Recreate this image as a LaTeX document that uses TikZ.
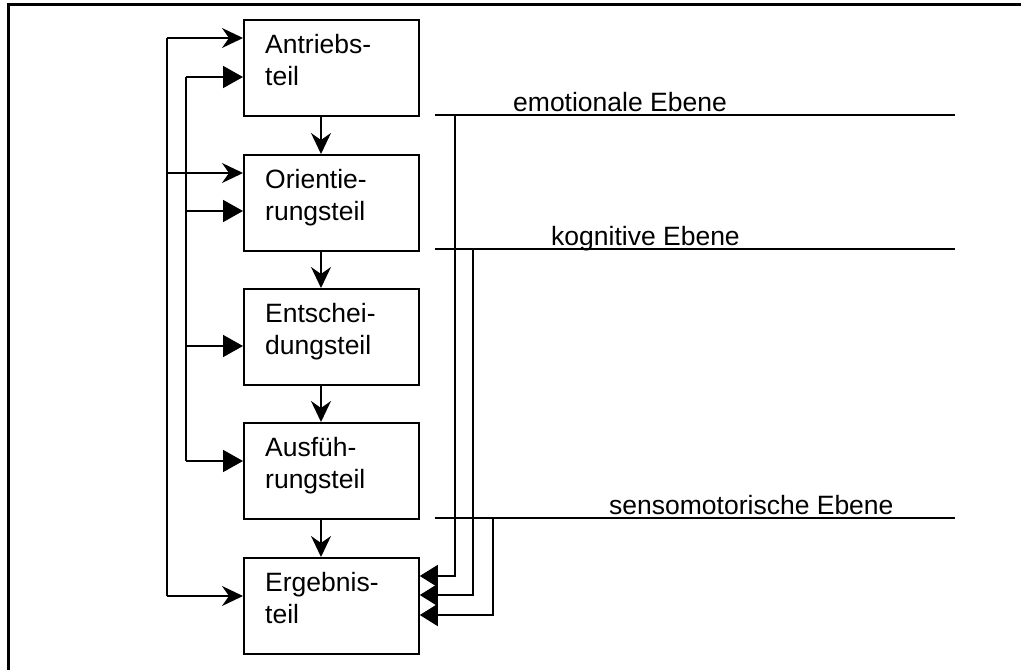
\documentclass[tikz,border=0pt]{standalone}
\usepackage{fontspec}
\setmainfont{Liberation Sans}
\usetikzlibrary{arrows.meta}
\begin{document}
\begin{tikzpicture}[x=1pt,y=-1pt,
  stepbox/.style={draw, line width=1.8pt, minimum width=175pt, minimum height=96pt, inner sep=0pt, anchor=north west},
  boxtext/.style={anchor=north west, inner sep=0pt, align=left, font=\fontsize{26.5}{32}\selectfont},
  lvltext/.style={anchor=base west, inner sep=0pt, font=\fontsize{26.5}{32}\selectfont},
  ln/.style={line width=1.7pt},
  oarr/.style={ln, -{Stealth[length=21pt,width=20pt,inset=7pt]}},
  farr/.style={ln, -{Triangle[length=20pt,width=22pt]}},
  rarr/.style={ln, -{Triangle[length=18pt,width=22pt]}},
  lvl/.style={line width=1.7pt}]
\useasboundingbox (0,0) rectangle (1021,670);
% frame
\draw[line width=2.5pt] (8.5,670) -- (8.5,4.5) -- (1021,4.5);
% boxes
\node[stepbox] (b1) at (243,19) {};
\node[stepbox] (b2) at (243,154) {};
\node[stepbox] (b3) at (243,288) {};
\node[stepbox] (b4) at (243,422) {};
\node[stepbox] (b5) at (243,557) {};
\node[boxtext] (t1) at (265,34) {Antriebs-\\teil};
\node[boxtext] (t2) at (265,169) {Orientie-\\rungsteil};
\node[boxtext] (t3) at (265,303) {Entschei-\\dungsteil};
\node[boxtext] (t4) at (265,437) {Ausfüh-\\rungsteil};
\node[boxtext] (t5) at (265,572) {Ergebnis-\\teil};
% down arrows
\draw[oarr] (b1.south west) ++(78,0) coordinate (d1) -- (d1 |- b2.north);
\draw[oarr] (b2.south west) ++(78,0) coordinate (d2) -- (d2 |- b3.north);
\draw[oarr] (b3.south west) ++(78,0) coordinate (d3) -- (d3 |- b4.north);
\draw[oarr] (b4.south west) ++(78,0) coordinate (d4) -- (d4 |- b5.north);
% outer left feedback line
\coordinate (o1) at (167,38);
\coordinate (o2) at (167,173);
\coordinate (o3) at (167,596);
\draw[ln] (o1) -- (o3);
\draw[oarr] (o1) -- (o1 -| b1.west);
\draw[oarr] (o2) -- (o2 -| b2.west);
\draw[oarr] (o3) -- (o3 -| b5.west);
% inner left feedback line
\coordinate (i1) at (186,77);
\coordinate (i2) at (186,211);
\coordinate (i3) at (186,346);
\coordinate (i4) at (186,461);
\draw[ln] (i1) -- (i4);
\draw[farr] (i1) -- (i1 -| b1.west);
\draw[farr] (i2) -- (i2 -| b2.west);
\draw[farr] (i3) -- (i3 -| b3.west);
\draw[farr] (i4) -- (i4 -| b4.west);
% level lines
\coordinate (e1) at (435,115); \coordinate (e2) at (955,115);
\coordinate (k1) at (435,249); \coordinate (k2) at (955,249);
\coordinate (s1) at (435,518); \coordinate (s2) at (955,518);
\draw[lvl] (e1) -- (e2);
\draw[lvl] (k1) -- (k2);
\draw[lvl] (s1) -- (s2);
\node[lvltext] (le) at (513,111) {emotionale Ebene};
\node[lvltext] (lk) at (551,245) {kognitive Ebene};
\node[lvltext] (ls) at (609,514) {sensomotorische Ebene};
% connections from levels to result box
\coordinate (ev) at (455,115);
\coordinate (kv) at (473,249);
\coordinate (sv) at (493,518);
\draw[rarr] (ev) |- (b5.east |- 0,576);
\draw[rarr] (kv) |- (b5.east |- 0,595);
\draw[rarr] (sv) |- (b5.east |- 0,615);
\end{tikzpicture}
\end{document}
